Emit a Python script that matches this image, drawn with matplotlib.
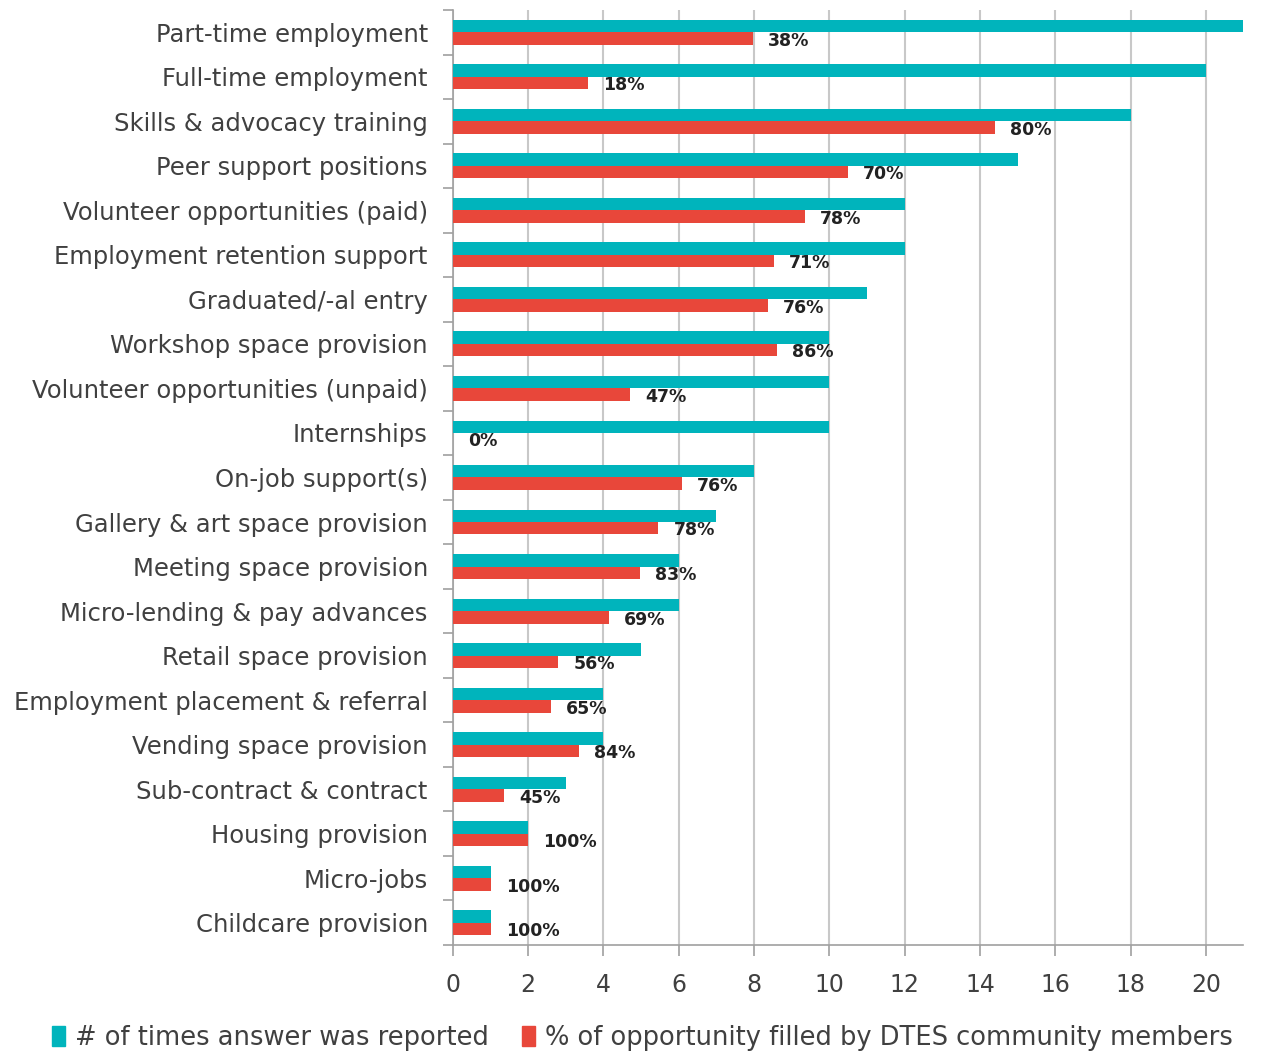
import numpy as np
import matplotlib.pyplot as plt
from matplotlib.patches import Patch

categories = [
    "Part-time employment", "Full-time employment", "Skills & advocacy training",
    "Peer support positions", "Volunteer opportunities (paid)", "Employment retention support",
    "Graduated/-al entry", "Workshop space provision", "Volunteer opportunities (unpaid)",
    "Internships", "On-job support(s)", "Gallery & art space provision",
    "Meeting space provision", "Micro-lending & pay advances", "Retail space provision",
    "Employment placement & referral", "Vending space provision", "Sub-contract & contract",
    "Housing provision", "Micro-jobs", "Childcare provision",
]
times_reported = [21, 20, 18, 15, 12, 12, 11, 10, 10, 10, 8, 7, 6, 6, 5, 4, 4, 3, 2, 1, 1]
pct_filled = [38, 18, 80, 70, 78, 71, 76, 86, 47, 0, 76, 78, 83, 69, 56, 65, 84, 45, 100, 100, 100]

teal = "#00B4BC"
red = "#E8473A"
grey = "#404040"

counts = np.array(times_reported, dtype=float)
pcts = np.array(pct_filled, dtype=float)
filled = counts * pcts / 100.0
y = np.arange(len(categories))
h = 0.28

fig = plt.figure(figsize=(12.65, 10.55), dpi=100)
ax = fig.add_axes([0.358, 0.1043, 0.625, 0.8862])

ax.barh(y - h / 2, counts, height=h, color=teal, zorder=3)
ax.barh(y + h / 2, filled, height=h, color=red, zorder=3)

for yi, f, p in zip(y, filled, pct_filled):
    ax.text(f + 0.4, yi + h / 2 + 0.05, f"{p}%", va="center", ha="left",
            fontsize=12.5, fontweight="bold", color="#222222",
            family=["Liberation Sans Narrow", "DejaVu Sans"], zorder=4)

ax.set_xlim(0, 21)
ax.set_ylim(len(categories) - 0.5, -0.5)
ax.set_xticks(np.arange(0, 21, 2))
ax.set_yticks(y)
ax.set_yticklabels(categories, va="center_baseline")
ax.set_yticks(np.arange(-0.5, len(categories), 1), minor=True)
ax.tick_params(axis="y", which="major", length=0, pad=18, labelsize=17.5, labelcolor=grey)
ax.tick_params(axis="y", which="minor", length=7, color="#A0A0A0", width=1.2)
ax.tick_params(axis="x", length=8, color="#A0A0A0", width=1.2, pad=12,
               labelsize=17, labelcolor=grey)

ax.grid(axis="x", color="#C8C8C8", linewidth=1.5, zorder=0)
for side in ["top", "right"]:
    ax.spines[side].set_visible(False)
for side in ["left", "bottom"]:
    ax.spines[side].set_color("#A0A0A0")
    ax.spines[side].set_linewidth(1.2)

handles = [Patch(color=teal, label="# of times answer was reported"),
           Patch(color=red, label="% of opportunity filled by DTES community members")]
fig.legend(handles=handles, loc="lower center", bbox_to_anchor=(0.508, -0.018), ncol=2,
           frameon=False, fontsize=18.5, handlelength=0.5, handleheight=0.8,
           handletextpad=0.4, columnspacing=1.3, labelcolor=grey)

fig.savefig("out.png", dpi=100)
